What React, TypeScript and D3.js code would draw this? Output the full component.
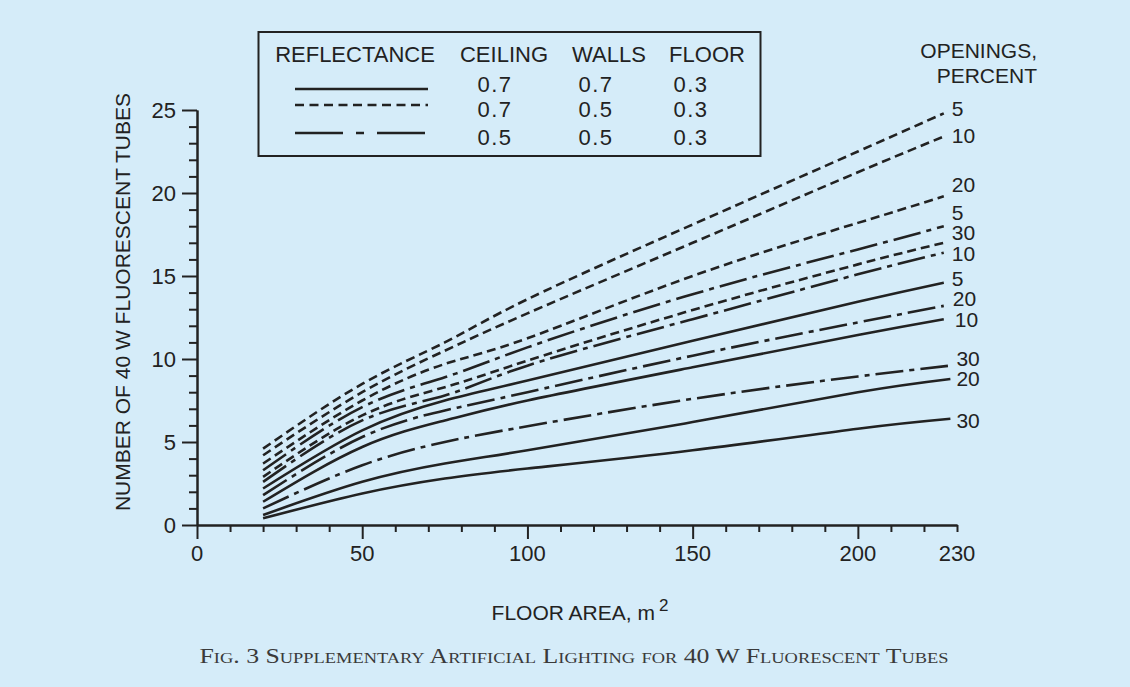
import * as React from 'react'
import { useEffect, useRef } from 'react'
import * as d3 from 'd3'

// floor area (m2) where the curves were read
const areas = [20, 50, 75, 100, 150, 200]

// number of tubes, one list per curve, last value is at the curve end
const dashedValues = [
  [4.6, 8.5, 11.0, 13.6, 18.1, 22.5, 24.8],
  [4.2, 8.0, 10.5, 12.75, 17.0, 21.25, 23.4],
  [3.7, 7.5, 9.7, 11.25, 15.0, 18.2, 19.8],
  [2.9, 6.6, 8.3, 9.9, 12.95, 15.7, 17.0],
]
const dashDotValues = [
  [3.3, 7.1, 8.9, 10.7, 13.9, 16.6, 18.0],
  [2.6, 6.3, 7.8, 9.6, 12.4, 15.1, 16.4],
  [1.8, 5.3, 6.9, 8.0, 10.2, 12.2, 13.2],
  [1.0, 3.6, 5.0, 5.95, 7.6, 8.95, 9.6],
]
const solidValues = [
  [2.2, 5.7, 7.5, 8.7, 11.1, 13.45, 14.6],
  [1.4, 4.7, 6.3, 7.5, 9.5, 11.45, 12.4],
  [0.6, 2.6, 3.7, 4.5, 6.2, 8.0, 8.8],
  [0.4, 1.9, 2.8, 3.4, 4.5, 5.8, 6.4],
]
const openings = [5, 10, 20, 30]
const endAreas = {
  dashed: [226, 226, 226, 226],
  dashDot: [226, 226, 226, 228],
  solid: [226, 226, 228, 228],
}

const legendHeader = ['REFLECTANCE', 'CEILING', 'WALLS', 'FLOOR']
const legendRows = [
  ['0.7', '0.7', '0.3'],
  ['0.7', '0.5', '0.3'],
  ['0.5', '0.5', '0.3'],
]

const yMajor = [0, 5, 10, 15, 20, 25]
const xMajor = [0, 50, 100, 150, 200]
const xLabels = [0, 50, 100, 150, 200, 230]

const W = 1130
const H = 687
const FONT = '"Liberation Sans", Arial, Helvetica, sans-serif'
const INK = '#222'

// label nudges [dy, dx] (px) for the curve end labels
const labelNudge = {
  dashed: [[-5, 0], [-1, 0], [-12, 0], [-10, 0]],
  dashDot: [[-14, 0], [1, 0], [-7, 1], [-7, -2]],
  solid: [[-4, 0], [0, 3], [0, -2], [2, -2]],
}

const App = () => {
  const ref = useRef<HTMLDivElement | null>(null)

  useEffect(() => {
    const root = d3.select(ref.current)
    root.selectAll('*').remove()
    const svg = root.append('svg')
      .attr('width', W).attr('height', H)
      .style('position', 'absolute').style('left', 0).style('top', 0)
      .style('font-family', FONT)

    svg.append('rect').attr('width', W).attr('height', H).attr('fill', '#d5ecf9')

    const x = d3.scaleLinear().domain([0, 230]).range([197, 957])
    const y = d3.scaleLinear().domain([0, 25]).range([525, 110])

    // y axis
    const yMinor = d3.range(0, 26).filter(v => v % 5 !== 0)
    const gy = svg.append('g').attr('transform', `translate(${x(0)},0)`)
    gy.call(d3.axisLeft(y).tickValues(yMajor).tickSize(15).tickSizeOuter(0).tickFormat(() => '') as any)
    gy.append('g').call(d3.axisLeft(y).tickValues(yMinor).tickSize(8).tickSizeOuter(0).tickFormat(() => '') as any)
    gy.selectAll('path,line').attr('stroke', INK).attr('stroke-width', 2)

    svg.append('g').selectAll('text').data(yMajor).enter().append('text')
      .attr('x', 176).attr('y', d => y(d)).attr('dy', '0.36em')
      .attr('text-anchor', 'end').attr('font-size', 22).attr('fill', INK)
      .text(d => d)

    // x axis
    const xMinor = d3.range(10, 231, 10).filter(v => v % 50 !== 0)
    const gx = svg.append('g').attr('transform', `translate(0,${y(0)})`)
    gx.call(d3.axisBottom(x).tickValues(xMajor).tickSize(14).tickSizeOuter(0).tickFormat(() => '') as any)
    gx.append('g').call(d3.axisBottom(x).tickValues(xMinor).tickSize(7).tickSizeOuter(0).tickFormat(() => '') as any)
    gx.selectAll('path,line').attr('stroke', INK).attr('stroke-width', 2)

    svg.append('g').selectAll('text').data(xLabels).enter().append('text')
      .attr('x', d => x(d)).attr('y', 561)
      .attr('text-anchor', 'middle').attr('font-size', 22).attr('fill', INK)
      .text(d => d)

    // axis titles
    svg.append('text')
      .attr('transform', 'translate(122,302) rotate(-90)')
      .attr('text-anchor', 'middle').attr('dominant-baseline', 'central')
      .attr('font-size', 21).attr('fill', INK)
      .text('NUMBER OF 40 W FLUORESCENT TUBES')

    const xt = svg.append('text').attr('x', 580).attr('y', 620)
      .attr('text-anchor', 'middle').attr('font-size', 21).attr('fill', INK)
    xt.append('tspan').text('FLOOR AREA, m')
    xt.append('tspan').attr('dx', 4).attr('dy', -9).attr('font-size', 17).text('2')

    // curves
    const line = d3.line<[number, number]>()
      .x(d => x(d[0])).y(d => y(d[1]))
      .curve(d3.curveNatural)

    const families = [
      { key: 'dashed', values: dashedValues, dash: '9,5' },
      { key: 'dashDot', values: dashDotValues, dash: '28,6,5,6' },
      { key: 'solid', values: solidValues, dash: null },
    ]
    const curves = svg.append('g')
    families.forEach(f => {
      f.values.forEach((vals, i) => {
        const end = (endAreas as any)[f.key][i]
        const pts = vals.map((v, j) => [j < areas.length ? areas[j] : end, v] as [number, number])
        curves.append('path')
          .attr('d', line(pts))
          .attr('fill', 'none').attr('stroke', INK).attr('stroke-width', 2.6)
          .attr('stroke-dasharray', f.dash)
        const nudge = (labelNudge as any)[f.key][i]
        curves.append('text')
          .attr('x', x(end) + 8 + nudge[1]).attr('y', y(vals[vals.length - 1]) + nudge[0])
          .attr('dy', '0.36em').attr('font-size', 21).attr('fill', INK)
          .text(openings[i])
      })
    })

    svg.append('text').attr('x', 1037).attr('y', 58).attr('text-anchor', 'end')
      .attr('font-size', 21).attr('fill', INK).text('OPENINGS,')
    svg.append('text').attr('x', 1037).attr('y', 83).attr('text-anchor', 'end')
      .attr('font-size', 21).attr('fill', INK).text('PERCENT')

    // legend
    const lg = svg.append('g')
    lg.append('rect').attr('x', 258.5).attr('y', 32).attr('width', 502).attr('height', 124)
      .attr('fill', 'none').attr('stroke', INK).attr('stroke-width', 2)
    const headX = [355, 504, 609, 707]
    lg.selectAll('text.h').data(legendHeader).enter().append('text')
      .attr('x', (d, i) => headX[i]).attr('y', 62).attr('text-anchor', 'middle')
      .attr('font-size', 22).attr('fill', INK).text(d => d)
    const valX = [495, 596, 691]
    const rowY = [92, 117, 145]
    const lineY = [89, 105, 133]
    const legendDash = [null, '9,5.5', '48,13,8,13']
    legendRows.forEach((row, r) => {
      lg.append('line').attr('x1', 295).attr('x2', 428).attr('y1', lineY[r]).attr('y2', lineY[r])
        .attr('stroke', INK).attr('stroke-width', 2.6).attr('stroke-dasharray', legendDash[r])
      row.forEach((v, c) => {
        lg.append('text').attr('x', valX[c]).attr('y', rowY[r]).attr('text-anchor', 'middle')
          .attr('font-size', 22).attr('letter-spacing', 1.5).attr('fill', INK).text(v)
      })
    })

    // caption
    svg.append('text').attr('x', 574).attr('y', 663).attr('text-anchor', 'middle')
      .attr('font-family', '"Liberation Serif", "Times New Roman", serif')
      .attr('font-size', 21).style('font-variant', 'small-caps').attr('fill', '#3a3a3a')
      .attr('textLength', 749).attr('lengthAdjust', 'spacingAndGlyphs')
      .text('Fig. 3 Supplementary Artificial Lighting for 40 W Fluorescent Tubes')

    return () => { svg.remove() }
  }, [])

  return <div ref={ref} />
}

export default App
